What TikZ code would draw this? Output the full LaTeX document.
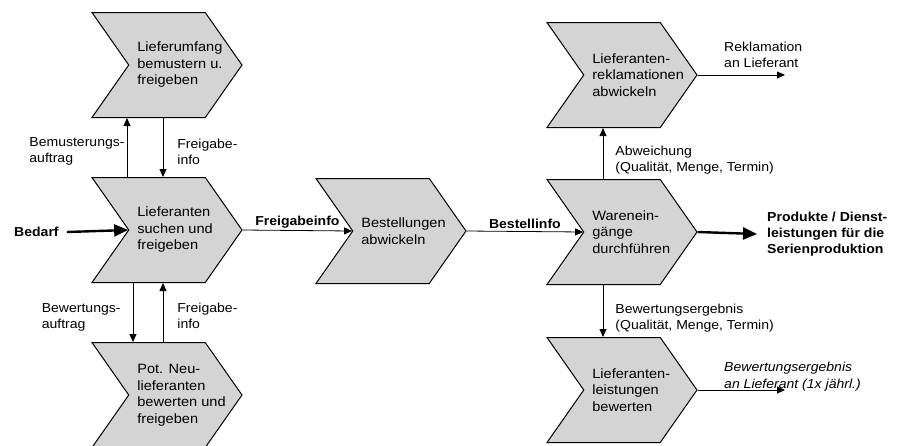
\documentclass[tikz,border=0pt]{standalone}
\usepackage{fontspec}
\setmainfont[FakeStretch=1.08]{Liberation Sans}
\usetikzlibrary{arrows.meta,shapes,positioning}
\definecolor{chevgray}{RGB}{212,212,212}
\tikzstyle{every picture}+=[remember picture]

\begin{document}
\begin{tikzpicture}[x=1pt,y=-1pt,
  chev/.style={signal, signal to=east, signal from=west, signal pointer angle=110, draw, line width=1pt, fill=chevgray, minimum width=150pt, minimum height=105pt, inner sep=0pt},
  ptxt/.style={anchor=west, align=left, xshift=9pt, inner sep=0pt, font=\fontsize{13.5}{16.5}\selectfont},
  lbl/.style={align=left, inner sep=2pt, font=\fontsize{13}{16}\selectfont},
  blbl/.style={align=left, inner sep=2pt, font=\fontsize{13}{16}\selectfont\bfseries},
  flow/.style={-{Triangle[length=8pt,width=7pt]}, line width=0.8pt},
  bigflow/.style={-{Triangle[length=14pt,width=12pt]}, line width=2.4pt}]

\useasboundingbox (0,0) rectangle (899,445);

    % left column
    \node[chev][label={[ptxt]west:{Lieferumfang\\bemustern u.\\freigeben}}](umf) at (167,65) {};
    \node[chev][label={[ptxt]west:{Lieferanten\\suchen und\\freigeben}}](such) at (167,230) {};
    \node[chev][label={[ptxt]west:{Pot. Neu-\\lieferanten\\bewerten und\\freigeben}}](neu) at (167,395) {};

    % middle
    \node[chev][label={[ptxt]west:{Bestellungen\\abwickeln}}](best) at (391,231) {};

    % right column
    \node[chev][label={[ptxt]west:{Lieferanten-\\reklamationen\\abwickeln}}](rekl) at (622,75) {};
    \node[chev][label={[ptxt]west:{Warenein-\\gänge\\durchführen}}](ware) at (622,232) {};
    \node[chev][label={[ptxt]west:{Lieferanten-\\leistungen\\bewerten}}](leist) at (622,390) {};

    % inputs and outputs
    \node[blbl, anchor=west](bed) at (12,232) {Bedarf};
    \node[blbl, anchor=west](prod) at (765,234) {Produkte / Dienst-\\leistungen für die\\Serienproduktion};
    \coordinate (reklend) at (785,75);
    \node[lbl, anchor=south west](rekltxt) at (722,70) {Reklamation\\an Lieferant};
    \coordinate (leistend) at (785,390);
    \node[lbl, anchor=south west, font=\fontsize{13}{17}\selectfont\itshape](leisttxt) at (722,393) {Bewertungsergebnis\\an Lieferant (1x jährl.)};

    % flows
    \draw[bigflow] ([xshift=6pt]bed.east) -- (such.west);
    \draw[flow] (such.east) -- node[blbl, above] {Freigabeinfo} (best.west);
    \draw[flow] (best.east) -- node[blbl, above] {Bestellinfo} (ware.west);
    \draw[bigflow] (ware.east) -- ([xshift=-8pt]prod.west);
    \draw[flow] (rekl.east) -- (reklend);
    \draw[flow] (leist.east) -- (leistend);

    \draw[flow] ([xshift=-40pt]such.north) -- node[lbl, left, yshift=-4pt] {Bemusterungs-\\auftrag} ([xshift=-40pt]umf.south);
    \draw[flow] ([xshift=-4pt]umf.south) -- node[lbl, right, xshift=12pt, yshift=-4pt] {Freigabe-\\info} ([xshift=-4pt]such.north);
    \draw[flow] ([xshift=-34pt]such.south) -- node[lbl, left, xshift=-10pt, yshift=-5pt] {Bewertungs-\\auftrag} ([xshift=-34pt]neu.north);
    \draw[flow] ([xshift=-4pt]neu.north) -- node[lbl, right, xshift=12pt, yshift=-3pt] {Freigabe-\\info} ([xshift=-4pt]such.south);

    \draw[flow] ([xshift=-19pt]ware.north) -- node[lbl, right, xshift=10pt, yshift=-7pt] {Abweichung\\(Qualität, Menge, Termin)} ([xshift=-19pt]rekl.south);
    \draw[flow] ([xshift=-19pt]ware.south) -- node[lbl, right, xshift=10pt, yshift=-7pt] {Bewertungsergebnis\\(Qualität, Menge, Termin)} ([xshift=-19pt]leist.north);

\end{tikzpicture}
\end{document}
